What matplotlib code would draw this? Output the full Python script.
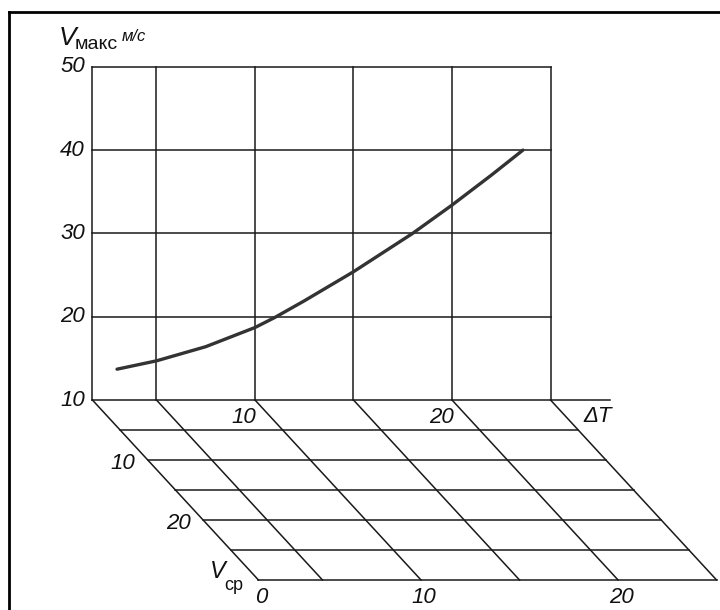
import numpy as np
import matplotlib.pyplot as plt
from matplotlib.lines import Line2D

# wall: V_max (m/s) against dT, floor: V_cp (oblique projection)
dT_left = 1.75
dT_grid = [5, 10, 15, 20, 25]
dT_base_end = 28.0
v_grid = [10, 20, 30, 40, 50]
vcp_grid = [0, 5, 10, 15, 20, 25, 30]

dT_curve = [3.0, 5, 7.5, 10, 11, 12.5, 15, 18, 20, 22, 23.6]
v_curve = [13.7, 14.7, 16.4, 18.7, 19.9, 21.9, 25.4, 30.0, 33.4, 37.0, 40.0]

y_labels = ['10', '20', '30', '40', '50']
back_labels = {10: '10', 20: '20'}
front_labels = {dT_left: '0', 10: '10', 20: '20'}
vcp_labels = {10: '10', 20: '20'}

# oblique shift of the floor per unit of V_cp
kx, ky = 0.2809, 0.7203


def floor(dt, vcp):
    return dt + kx * vcp, 10 - ky * vcp


fig = plt.figure(figsize=(7.2, 6.1), dpi=100)
ax = fig.add_axes([0, 0, 1, 1])
ax.set_xlim(-2.94, 33.60)
ax.set_ylim(-15.21, 58.02)
ax.axis('off')

col = '#1a1a1a'
lw = 1.1
font = ['Liberation Sans', 'DejaVu Sans']

# wall
for dt in [dT_left] + dT_grid:
    ax.plot([dt, dt], [10, 50], color=col, lw=lw)
for v in v_grid[1:]:
    ax.plot([dT_left, dT_grid[-1]], [v, v], color=col, lw=lw)
ax.plot([dT_left, dT_base_end], [10, 10], color=col, lw=lw)

# floor
for dt in [dT_left] + dT_grid:
    x0, y0 = floor(dt, vcp_grid[0])
    x1, y1 = floor(dt, vcp_grid[-1])
    ax.plot([x0, x1], [y0, y1], color=col, lw=lw)
for vcp in vcp_grid[1:]:
    x0, y0 = floor(dT_left, vcp)
    x1, y1 = floor(dT_grid[-1], vcp)
    ax.plot([x0, x1], [y0, y1], color=col, lw=lw)

# curve
ax.plot(dT_curve, v_curve, color='#333333', lw=2.4, solid_capstyle='round')

txt = dict(textcoords='offset pixels', fontstyle='italic', family=font,
           fontsize=16, color='#111111', ha='center', va='center')

for v, lab in zip(v_grid, y_labels):
    ax.annotate(lab, (dT_left, v), xytext=(-20, 0), **txt)

for dt, lab in back_labels.items():
    ax.annotate(lab, floor(dt, 0), xytext=(-11, -17), **txt)
ax.annotate('ΔT', floor(dT_grid[-1], 0), xytext=(47, -16), **txt)

for vcp, lab in vcp_labels.items():
    ax.annotate(lab, floor(dT_left, vcp), xytext=(-25, -3), **txt)

for dt, lab in front_labels.items():
    ax.annotate(lab, floor(dt, vcp_grid[-1]), xytext=(3, -17), **txt)

# axis names
ax.annotate('V', (dT_left, 50), xytext=(-25, 29),
            **{**txt, 'fontsize': 19})
ax.annotate('макс', (dT_left, 50), xytext=(4, 22),
            **{**txt, 'fontstyle': 'normal', 'fontsize': 14})
ax.annotate('м/с', (dT_left, 50), xytext=(41, 30),
            **{**txt, 'fontsize': 12})
ax.annotate('V', floor(dT_left, vcp_grid[-1]), xytext=(-41, 9),
            **{**txt, 'fontsize': 17})
ax.annotate('cp', floor(dT_left, vcp_grid[-1]), xytext=(-25, -5),
            **{**txt, 'fontstyle': 'normal', 'fontsize': 13})

# scan frame (left and top edges)
fig.add_artist(Line2D([9 / 720, 9 / 720], [0, 1 - 12 / 610],
                      transform=fig.transFigure, color='black', lw=2))
fig.add_artist(Line2D([9 / 720, 1], [1 - 12 / 610, 1 - 12 / 610],
                      transform=fig.transFigure, color='black', lw=2))

fig.savefig('out.png', dpi=100)
